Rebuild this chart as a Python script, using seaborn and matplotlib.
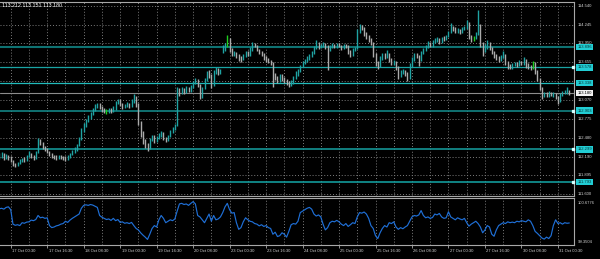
import numpy as np
import pandas as pd
import matplotlib
matplotlib.use("Agg")
import matplotlib.pyplot as plt
import matplotlib.transforms as mtransforms
import seaborn as sns

# ---------------- data ----------------
closes = [
    112.20, 112.22, 112.17, 112.20, 112.18, 112.12, 112.06, 112.05, 112.09, 112.12,
    112.15, 112.13, 112.20, 112.24, 112.18, 112.16, 112.25, 112.43, 112.40, 112.33,
    112.30, 112.26, 112.22, 112.20, 112.18, 112.17, 112.19, 112.18, 112.16, 112.15,
    112.18, 112.22, 112.26, 112.30, 112.36, 112.47, 112.60, 112.68, 112.76, 112.80,
    112.85, 112.92, 112.97, 113.00, 112.96, 112.92, 112.90, 112.88, 112.92, 112.90,
    112.94, 113.02, 113.07, 113.00, 112.96, 112.98, 113.01, 112.97, 113.05, 113.12,
    113.00, 112.72, 112.55, 112.42, 112.35, 112.32, 112.45, 112.50, 112.44, 112.48,
    112.52, 112.55, 112.47, 112.44, 112.50, 112.58, 112.62, 112.68, 113.22, 113.18,
    113.24, 113.20, 113.26, 113.22, 113.28, 113.34, 113.38, 113.30, 113.12, 113.25,
    113.38, 113.48, 113.45, 113.30, 113.50, 113.55, 113.49, 113.52, 113.86, 113.92,
    114.02, 113.85, 113.78, 113.80, 113.76, 113.72, 113.70, 113.76, 113.80, 113.78,
    113.86, 113.94, 113.92, 113.85, 113.80, 113.78, 113.72, 113.70, 113.68, 113.65,
    113.45, 113.42, 113.38, 113.45, 113.40, 113.36, 113.34, 113.32, 113.34, 113.42,
    113.48, 113.52, 113.60, 113.66, 113.68, 113.72, 113.76, 113.80, 113.88, 113.95,
    113.90, 113.92, 113.94, 113.88, 113.86, 113.90, 113.93, 113.90, 113.94, 113.92,
    113.88, 113.93, 113.90, 113.82, 113.78, 113.85, 113.88, 114.15, 114.22, 114.20,
    114.10, 114.05, 114.00, 113.95, 113.78, 113.65, 113.60, 113.72, 113.78, 113.75,
    113.78, 113.70, 113.65, 113.66, 113.58, 113.45, 113.50, 113.52, 113.48, 113.42,
    113.60, 113.70, 113.78, 113.75, 113.70, 113.80, 113.85, 113.90, 113.95, 113.92,
    113.98, 114.00, 114.02, 113.98, 114.04, 114.03, 114.06, 114.12, 114.20, 114.18,
    114.15, 114.16, 114.12, 114.18, 114.20, 114.28, 114.05, 114.00, 114.04, 114.10,
    114.25, 113.95, 113.85, 113.90, 113.95, 113.88, 113.80, 113.75, 113.72, 113.70,
    113.74, 113.78, 113.65, 113.60, 113.58, 113.62, 113.64, 113.62, 113.66, 113.64,
    113.70, 113.60, 113.58, 113.57, 113.65, 113.50, 113.40, 113.25, 113.12, 113.16,
    113.14, 113.18, 113.15, 113.16, 113.12, 113.05, 113.15, 113.18, 113.20, 113.22,
    113.18,
]
highs = [
    112.25, 112.26, 112.24, 112.23, 112.22, 112.19, 112.13, 112.09, 112.11, 112.15,
    112.17, 112.18, 112.22, 112.27, 112.25, 112.21, 112.28, 112.47, 112.46, 112.41,
    112.35, 112.32, 112.28, 112.24, 112.22, 112.21, 112.22, 112.22, 112.20, 112.19,
    112.21, 112.25, 112.29, 112.33, 112.39, 112.50, 112.63, 112.71, 112.78, 112.84,
    112.88, 112.95, 113.00, 113.03, 113.02, 112.98, 112.94, 112.93, 112.95, 112.94,
    112.97, 113.05, 113.09, 113.08, 113.02, 113.01, 113.04, 113.03, 113.08, 113.17,
    113.14, 113.02, 112.75, 112.58, 112.46, 112.40, 112.48, 112.53, 112.52, 112.51,
    112.55, 112.58, 112.57, 112.50, 112.53, 112.60, 112.65, 112.70, 113.27, 113.26,
    113.27, 113.26, 113.29, 113.28, 113.31, 113.37, 113.41, 113.39, 113.32, 113.28,
    113.41, 113.52, 113.54, 113.47, 113.53, 113.58, 113.57, 113.55, 113.92, 113.96,
    114.09, 114.04, 113.88, 113.83, 113.82, 113.78, 113.75, 113.79, 113.83, 113.83,
    113.89, 113.97, 113.96, 113.93, 113.87, 113.83, 113.80, 113.75, 113.73, 113.70,
    113.66, 113.49, 113.45, 113.48, 113.47, 113.43, 113.39, 113.37, 113.38, 113.45,
    113.52, 113.55, 113.62, 113.68, 113.71, 113.75, 113.79, 113.83, 113.91, 114.00,
    113.97, 113.95, 113.97, 113.96, 113.92, 113.93, 113.96, 113.95, 113.96, 113.96,
    113.93, 113.95, 113.95, 113.92, 113.85, 113.88, 113.90, 114.17, 114.25, 114.24,
    114.21, 114.13, 114.08, 114.03, 113.97, 113.80, 113.68, 113.75, 113.81, 113.80,
    113.85, 113.80, 113.72, 113.70, 113.68, 113.60, 113.54, 113.55, 113.54, 113.50,
    113.64, 113.74, 113.81, 113.81, 113.77, 113.84, 113.88, 113.93, 113.99, 113.98,
    114.01, 114.04, 114.06, 114.03, 114.06, 114.07, 114.09, 114.15, 114.27, 114.23,
    114.21, 114.19, 114.18, 114.21, 114.23, 114.32, 114.29, 114.08, 114.07, 114.13,
    114.47, 114.26, 113.98, 113.94, 114.00, 113.97, 113.90, 113.83, 113.78, 113.76,
    113.77, 113.83, 113.79, 113.68, 113.63, 113.65, 113.67, 113.67, 113.69, 113.68,
    113.74, 113.71, 113.64, 113.61, 113.68, 113.66, 113.53, 113.42, 113.28, 113.20,
    113.19, 113.21, 113.20, 113.20, 113.18, 113.14, 113.18, 113.21, 113.23, 113.28,
    113.23,
]
lows = [
    112.15, 112.17, 112.14, 112.15, 112.14, 112.10, 112.04, 112.03, 112.04, 112.07,
    112.10, 112.11, 112.12, 112.18, 112.16, 112.13, 112.15, 112.24, 112.37, 112.30,
    112.27, 112.24, 112.20, 112.17, 112.15, 112.14, 112.15, 112.15, 112.13, 112.12,
    112.13, 112.17, 112.21, 112.24, 112.28, 112.35, 112.45, 112.57, 112.65, 112.73,
    112.77, 112.83, 112.90, 112.94, 112.93, 112.89, 112.87, 112.85, 112.86, 112.87,
    112.88, 112.92, 113.00, 112.97, 112.93, 112.94, 112.96, 112.94, 112.96, 113.03,
    112.96, 112.68, 112.50, 112.38, 112.32, 112.28, 112.31, 112.43, 112.40, 112.42,
    112.46, 112.49, 112.44, 112.41, 112.43, 112.49, 112.56, 112.60, 112.67, 113.14,
    113.16, 113.17, 113.18, 113.19, 113.20, 113.26, 113.32, 113.27, 113.08, 113.10,
    113.24, 113.36, 113.42, 113.26, 113.29, 113.47, 113.46, 113.47, 113.80, 113.84,
    113.90, 113.82, 113.75, 113.76, 113.72, 113.68, 113.66, 113.69, 113.74, 113.75,
    113.76, 113.84, 113.89, 113.83, 113.78, 113.75, 113.70, 113.67, 113.65, 113.62,
    113.28, 113.38, 113.33, 113.35, 113.37, 113.33, 113.31, 113.28, 113.29, 113.32,
    113.40, 113.45, 113.50, 113.58, 113.63, 113.66, 113.70, 113.74, 113.78, 113.86,
    113.87, 113.88, 113.90, 113.86, 113.54, 113.84, 113.88, 113.88, 113.88, 113.89,
    113.85, 113.86, 113.88, 113.79, 113.74, 113.76, 113.83, 113.86, 114.12, 114.16,
    114.07, 114.02, 113.97, 113.92, 113.74, 113.60, 113.56, 113.58, 113.69, 113.71,
    113.72, 113.67, 113.61, 113.62, 113.54, 113.39, 113.43, 113.48, 113.45, 113.36,
    113.40, 113.58, 113.68, 113.72, 113.60, 113.68, 113.78, 113.83, 113.88, 113.89,
    113.90, 113.96, 113.98, 113.95, 113.96, 113.99, 114.01, 114.05, 114.11, 114.14,
    114.12, 114.12, 114.10, 114.11, 114.16, 114.18, 114.02, 113.98, 113.99, 114.02,
    114.08, 113.90, 113.76, 113.82, 113.87, 113.85, 113.78, 113.72, 113.69, 113.66,
    113.68, 113.72, 113.62, 113.56, 113.55, 113.56, 113.60, 113.59, 113.60, 113.61,
    113.62, 113.57, 113.55, 113.54, 113.55, 113.48, 113.36, 113.22, 113.08, 113.11,
    113.11, 113.12, 113.13, 113.12, 113.09, 113.00, 113.04, 113.13, 113.16, 113.17,
    113.15,
]
momentum = [
    100.43, 100.45, 100.42, 100.48, 100.50, 100.40, 99.90, 99.86, 99.88, 99.85,
    99.95, 99.93, 99.97, 99.98, 100.04, 100.02, 100.06, 100.20, 100.12, 100.14,
    100.10, 100.12, 99.85, 99.78, 99.80, 99.84, 99.86, 99.90, 99.92, 100.00,
    99.96, 100.04, 100.10, 100.15, 100.20, 100.25, 100.45, 100.55, 100.57, 100.55,
    100.58, 100.56, 100.52, 100.48, 100.20, 100.14, 100.10, 100.06, 100.08, 100.03,
    100.10, 100.02, 100.06, 99.96, 99.98, 99.93, 99.95, 99.92, 99.96, 99.85,
    99.75, 99.70, 99.60, 99.52, 99.45, 99.37, 99.55, 99.75, 99.85, 99.80,
    100.05, 100.20, 100.10, 99.95, 100.00, 100.05, 100.02, 100.08, 100.35, 100.60,
    100.62, 100.58, 100.60, 100.55, 100.62, 100.68, 100.60, 100.20, 100.15, 100.05,
    99.95, 100.10, 100.25, 100.00, 100.20, 100.05, 100.08, 100.15, 100.30, 100.50,
    100.62, 100.40, 100.28, 100.30, 99.95, 99.72, 99.78, 99.98, 100.12, 100.05,
    100.00, 99.98, 99.92, 99.90, 99.84, 99.88, 99.82, 99.85, 99.78, 99.75,
    99.55, 99.62, 99.47, 99.50, 99.60, 99.55, 99.45, 99.65, 99.88, 99.92,
    99.90, 100.00, 100.30, 100.35, 100.40, 100.45, 100.48, 100.42, 100.25, 100.18,
    100.22, 100.15, 99.90, 99.70, 99.78, 99.95, 100.00, 99.98, 100.03, 99.98,
    99.90, 99.85, 99.92, 99.82, 99.88, 99.95, 99.92, 100.15, 100.30, 100.28,
    100.32, 100.25, 100.10, 99.85, 99.75, 99.50, 99.40, 99.60, 99.75, 99.85,
    99.80, 99.95, 99.92, 99.98, 99.80, 99.72, 99.78, 99.74, 99.80, 99.85,
    100.00, 100.15, 100.20, 100.18, 100.22, 100.37, 100.20, 100.12, 100.15, 100.10,
    100.13, 100.25, 100.22, 100.27, 100.15, 100.10, 100.12, 100.33, 100.15, 100.10,
    100.05, 100.12, 100.08, 100.05, 100.10, 99.95, 99.83, 99.90, 99.95, 100.00,
    99.92, 99.80, 99.60, 99.70, 99.85, 99.80, 99.55, 99.48, 99.70, 99.85,
    99.90, 99.95, 99.92, 99.98, 99.95, 99.97, 99.95, 100.00, 99.98, 100.02,
    100.00, 99.98, 100.05, 100.00, 99.85, 99.65, 99.58, 99.50, 99.42, 99.38,
    99.45, 99.40, 99.50, 99.85, 100.05, 99.92, 99.95, 99.90, 99.95, 99.93,
    99.94,
]
green_bars = [47, 100, 208, 234]

time_labels = ["16 Oct 08:30", "17 Oct 00:30", "17 Oct 16:30", "18 Oct 08:30",
               "19 Oct 00:30", "19 Oct 16:30", "20 Oct 08:30", "23 Oct 00:30",
               "23 Oct 16:30", "24 Oct 08:30", "25 Oct 00:30", "25 Oct 16:30",
               "26 Oct 08:30", "27 Oct 00:30", "27 Oct 16:30", "30 Oct 08:30",
               "31 Oct 00:30"]
first_label_bar = -11
bars_per_label = 16

price_ticks = [114.540, 114.246, 113.952, 113.658, 113.364, 113.070,
               112.776, 112.482, 112.188, 111.894, 111.600]
# the label at 113.364 is hidden behind the 113.338 level box in the chart
price_tick_labels = ["114.540", "114.245", "113.950", "113.655", "", "113.070",
                     "112.775", "112.480", "112.190", "111.895", "111.600"]

level_prices = [113.896, 113.578, 113.338, 112.903, 112.299, 111.793]
level_labels = ["113.896", "113.578", "113.338", "112.903", "112.299", "111.793"]
bid_price = 113.180
header_text = "113.212 113.151 113.180"
mom_top_label, mom_bottom_label = "100.6776", "99.3504"

n = len(closes)
assert len(highs) == n and len(lows) == n and len(momentum) == n, (len(highs), len(lows), len(momentum), n)

idx = np.arange(n)
opens = [closes[0]] + closes[:-1]
df = pd.DataFrame({"bar": idx, "open": opens, "high": highs, "low": lows,
                   "close": closes, "momentum": momentum})

# ---------------- style ----------------
sns.set_style("dark", {"axes.facecolor": "black", "figure.facecolor": "black"})
plt.rcParams["font.family"] = ["Liberation Sans", "DejaVu Sans"]

W, H = 600, 259
fig = plt.figure(figsize=(6.0, 2.59), dpi=100, facecolor="black")

def px_rect(x0, y0, x1, y1):
    return [x0 / W, 1 - y1 / H, (x1 - x0) / W, (y1 - y0) / H]

ax = fig.add_axes(px_rect(0, 2, 574, 196))
axi = fig.add_axes(px_rect(0, 197.5, 574, 245))

XMIN, XMAX = 0.307, 252.06
GRID = "#7c7c7c"
FRAME = "#a8a8a8"
TEXT = "#d4d4d4"

for a in (ax, axi):
    a.set_facecolor("black")
    a.set_xlim(XMIN, XMAX)
    a.grid(False)
    a.set_yticks([])
    a.spines["left"].set_visible(False)
    for s in ("top", "right", "bottom"):
        a.spines[s].set_color(FRAME)
        a.spines[s].set_linewidth(0.8)
        a.spines[s].set_visible(True)
    for k in range(-1, 33):
        a.axvline(5 + 8 * k, color=GRID, lw=0.7, dashes=(1, 2), zorder=0.5)

ax.set_ylim(111.573, 114.598)
ax.set_xticks([])
for p in price_ticks:
    ax.axhline(p, color=GRID, lw=0.7, dashes=(1, 2), zorder=0.5)

# support / resistance levels
level_colors = ["#0e7272", "#19a4a4", "#21bcbc", "#138585", "#149494", "#139a9a"]
level_widths = [1.5, 0.9, 0.9, 1.2, 1.2, 1.2]
for p, c, w in zip(level_prices, level_colors, level_widths):
    ax.axhline(p, color=c, lw=w, zorder=1)
ax.axhline(bid_price, color="#8c8c8c", lw=0.8, zorder=1)

# OHLC bars
up_col, dn_col, gr_col = "#1fa3a3", "#ababab", "#1fcf1f"
colors = np.where(df["close"] >= df["open"], up_col, dn_col).astype(object)
for g in green_bars:
    colors[g] = gr_col
ax.vlines(df["bar"], df["low"], df["high"], colors=list(colors), linewidth=1.0, zorder=2)

# right-hand price scale
trans = mtransforms.blended_transform_factory(fig.transFigure, ax.transData)
lx = 577.5 / W
for p, lab in zip(price_ticks, price_tick_labels):
    if lab:
        ax.text(lx, p, lab, transform=trans, fontsize=3.0, color=TEXT,
                ha="left", va="center", clip_on=False, zorder=3)
for p, lab in zip(level_prices, level_labels):
    ax.text(lx, p, lab, transform=trans, fontsize=3.0, color="#073838",
            ha="left", va="center", clip_on=False, zorder=5,
            bbox=dict(boxstyle="square,pad=0.3", fc="#22cdd4", ec="none"))
ax.text(lx, bid_price, f"{bid_price:.3f}", transform=trans, fontsize=3.0, color="black",
        ha="left", va="center", clip_on=False, zorder=5,
        bbox=dict(boxstyle="square,pad=0.3", fc="#f2f2f2", ec="none"))
mtrans = mtransforms.blended_transform_factory(ax.transAxes, ax.transData)
ax.plot([0.998] * 4, level_prices[1:2] + level_prices[3:], "s", ms=1.6,
        color="#d8ffff", transform=mtrans, clip_on=False, zorder=4)

fig.text(1.5 / W, 1 - 5.7 / H, header_text, fontsize=3.8, color="white",
         ha="left", va="center")

# indicator panel
sns.lineplot(data=df, x="bar", y="momentum", ax=axi, color="#1f6fd6",
             linewidth=0.85, legend=False)
axi.set_ylim(99.177, 100.823)
axi.set_xlabel("")
axi.set_ylabel("")
axi.set_yticks([])
itrans = mtransforms.blended_transform_factory(fig.transFigure, axi.transAxes)
axi.text(lx, 0.89, mom_top_label, transform=itrans, fontsize=3.0, color=TEXT,
         ha="left", va="center", clip_on=False)
axi.text(lx, 0.063, mom_bottom_label, transform=itrans, fontsize=3.0, color=TEXT,
         ha="left", va="center", clip_on=False)

label_pos = [first_label_bar + bars_per_label * k for k in range(len(time_labels))]
axi.set_xticks([p for p in label_pos if p >= XMIN])
axi.tick_params(axis="x", direction="out", length=2.0, width=0.6, color=FRAME,
                labelbottom=False, bottom=True)
xtrans = mtransforms.blended_transform_factory(axi.transData, fig.transFigure)
for p, lab in zip(label_pos, time_labels):
    axi.text(p + 0.6, 1 - 250.7 / H, lab, transform=xtrans, fontsize=3.0,
             color=TEXT, ha="left", va="center", clip_on=False)

fig.savefig("out.png", dpi=100, facecolor="black")
